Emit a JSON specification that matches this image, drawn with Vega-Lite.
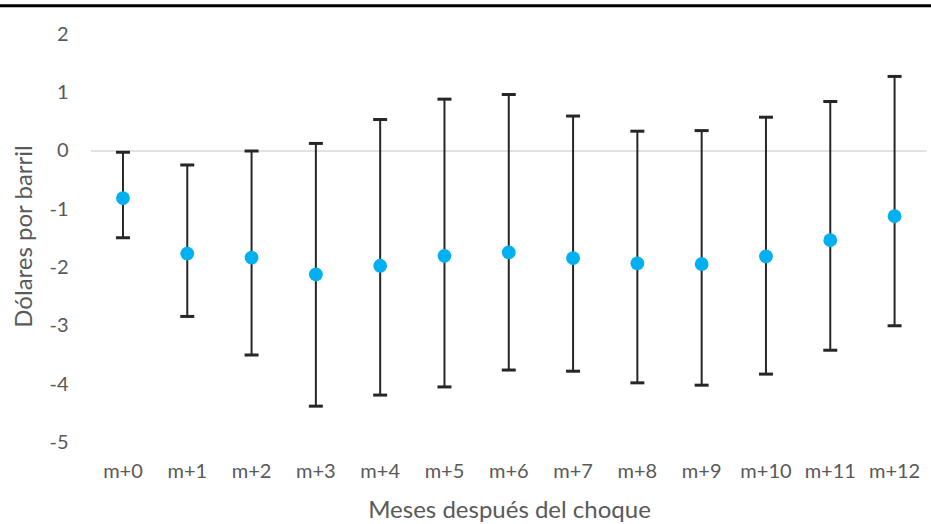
{
  "$schema": "https://vega.github.io/schema/vega-lite/v6.json",
  "width": 931,
  "height": 524,
  "autosize": {"type": "none"},
  "padding": 0,
  "background": "white",
  "config": {"view": {"stroke": null}, "font": "Lato",
    "axisY": {
      "orient": "left", "offset": -91, "values": [-5, -4, -3, -2, -1, 0, 1, 2],
      "domain": false, "ticks": false, "grid": false, "labelPadding": 23,
      "labelFontSize": 20, "labelColor": "#595959", "labelFont": "Lato",
      "labelExpr": "'' + datum.value",
      "titleFontSize": 24, "titleFontWeight": "normal", "titleColor": "#595959",
      "titleFont": "Lato", "titleX": -67, "titleY": 236, "titleBaseline": "middle", "titleAngle": -90
    },
    "axisX": {
      "orient": "bottom", "offset": -80, "domain": false, "ticks": false, "grid": false, "labelAngle": 0, "labelPadding": 17,
      "bandPosition": 0.5, "labelAlign": "center",
      "labelFontSize": 20, "labelColor": "#595959", "labelFont": "Lato",
      "titleFontSize": 24, "titleFontWeight": "normal", "titleColor": "#595959",
      "titleFont": "Lato", "titleX": 509, "titleY": 66, "titleBaseline": "middle"
    }
  },
  "datasets": {
    "est": [
      {"m": "m+0", "est": -0.81, "lo": -1.49, "hi": -0.02},
      {"m": "m+1", "est": -1.76, "lo": -2.84, "hi": -0.24},
      {"m": "m+2", "est": -1.83, "lo": -3.50, "hi": 0.00},
      {"m": "m+3", "est": -2.12, "lo": -4.38, "hi": 0.13},
      {"m": "m+4", "est": -1.97, "lo": -4.19, "hi": 0.54},
      {"m": "m+5", "est": -1.80, "lo": -4.05, "hi": 0.89},
      {"m": "m+6", "est": -1.74, "lo": -3.76, "hi": 0.97},
      {"m": "m+7", "est": -1.84, "lo": -3.78, "hi": 0.60},
      {"m": "m+8", "est": -1.93, "lo": -3.98, "hi": 0.34},
      {"m": "m+9", "est": -1.94, "lo": -4.02, "hi": 0.35},
      {"m": "m+10", "est": -1.81, "lo": -3.83, "hi": 0.58},
      {"m": "m+11", "est": -1.53, "lo": -3.42, "hi": 0.85},
      {"m": "m+12", "est": -1.12, "lo": -3.00, "hi": 1.28}
    ],
    "ref": [{"zero": 0, "top": 2.493}]
  },
  "layer": [
    {
      "data": {"name": "ref"},
      "mark": {"type": "rule", "color": "#000000", "strokeWidth": 3},
      "encoding": {
        "y": {"field": "top", "type": "quantitative", "scale": {"domain": [-6.403, 2.592], "nice": false, "zero": false},
          "axis": {"title": "Dólares por barril", "values": [-5, -4, -3, -2, -1, 0, 1, 2]}}
      }
    },
    {
      "data": {"name": "ref"},
      "mark": {"type": "rule", "color": "#d9d9d9", "strokeWidth": 1.5},
      "encoding": {
        "y": {"field": "zero", "type": "quantitative", "axis": {"title": "Dólares por barril", "values": [-5, -4, -3, -2, -1, 0, 1, 2]}},
        "x": {"datum": "m+0", "bandPosition": 0, "type": "nominal", "axis": {"title": "Meses después del choque", "bandPosition": 0.5}},
        "x2": {"datum": "m+12", "bandPosition": 1}
      }
    },
    {
      "data": {"name": "est"},
      "encoding": {
        "x": {"field": "m", "type": "nominal", "sort": null,
          "scale": {"domain": ["m+0","m+1","m+2","m+3","m+4","m+5","m+6","m+7","m+8","m+9","m+10","m+11","m+12"], "paddingInner": 0, "paddingOuter": 0.7395, "align": 0.955},
          "axis": {"title": "Meses después del choque", "bandPosition": 0.5}}
      },
      "layer": [
        {
          "mark": {"type": "rule", "color": "#262626", "strokeWidth": 2},
          "encoding": {
            "y": {"field": "lo", "type": "quantitative", "axis": {"title": "Dólares por barril", "values": [-5, -4, -3, -2, -1, 0, 1, 2]}},
            "y2": {"field": "hi"}
          }
        },
        {
          "mark": {"type": "tick", "color": "#262626", "size": 14, "thickness": 3, "opacity": 1},
          "encoding": {"y": {"field": "lo", "type": "quantitative", "axis": {"title": "Dólares por barril", "values": [-5, -4, -3, -2, -1, 0, 1, 2]}}}
        },
        {
          "mark": {"type": "tick", "color": "#262626", "size": 14, "thickness": 3, "opacity": 1},
          "encoding": {"y": {"field": "hi", "type": "quantitative", "axis": {"title": "Dólares por barril", "values": [-5, -4, -3, -2, -1, 0, 1, 2]}}}
        },
        {
          "mark": {"type": "point", "filled": true, "color": "#00B0F0", "opacity": 1, "size": 190},
          "encoding": {"y": {"field": "est", "type": "quantitative", "axis": {"title": "Dólares por barril", "values": [-5, -4, -3, -2, -1, 0, 1, 2]}}}
        }
      ]
    }
  ]
}
